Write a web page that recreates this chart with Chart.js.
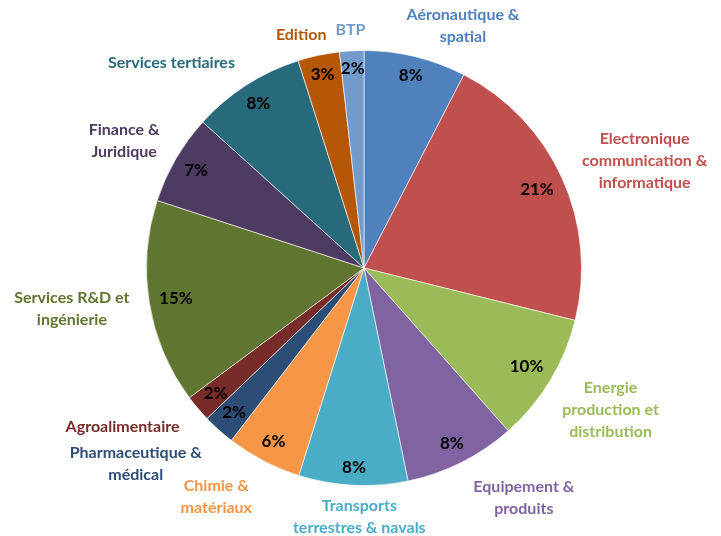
<!DOCTYPE html>
<html>
<head>
<meta charset="utf-8">
<script src="https://cdn.jsdelivr.net/npm/chart.js@4"></script>
<style>
  body { margin: 0; background: #fff; }
  #wrap { width: 721px; height: 536px; }
</style>
</head>
<body>
<div id="wrap"><canvas id="myChart"></canvas></div>
<script>
// secteurs (dans l'ordre du camembert, depuis midi, sens horaire)
const secteurs = [
  ['Aéronautique &', 'spatial'],
  ['Electronique', 'communication &', 'informatique'],
  ['Energie', 'production et', 'distribution'],
  ['Equipement &', 'produits'],
  ['Transports', 'terrestres & navals'],
  ['Chimie &', 'matériaux'],
  ['Pharmaceutique &', 'médical'],
  ['Agroalimentaire'],
  ['Services R&D et', 'ingénierie'],
  ['Finance &', 'Juridique'],
  ['Services tertiaires'],
  ['Edition'],
  ['BTP']
];
// parts en %
const parts = [7.6, 21.3, 9.6, 8.3, 8.1, 5.6, 2.4, 2.0, 15.2, 6.7, 8.4, 3.1, 1.8];
const couleurs = ['#4F81BD', '#C0504D', '#9BBB59', '#8064A2', '#4BACC6', '#F79646', '#2C4D75',
                  '#772C2A', '#5F7530', '#4D3B62', '#276A7C', '#B65708', '#729ACA'];

const police = 'Lato, "Open Sans", sans-serif';

// décalage manuel des noms (comme dans le graphique d'origine) : [dx, dy]
const decalNoms = [[37, 2], [9, 16], [2, -6], [39, -11], [8, 5], [-26, -5], [-36, -19],
                   [-29, -21], [-8, -5], [-7, 8], [-46, 23], [-12, 5], [0, 1]];

// --> labels (pourcentages dedans, secteurs dehors)
const etiquettes = {
  id: 'etiquettes',
  afterDatasetsDraw(chart) {
    const ctx = chart.ctx;
    const W = chart.width, H = chart.height;
    const meta = chart.getDatasetMeta(0);
    ctx.save();
    ctx.textAlign = 'center';
    ctx.textBaseline = 'middle';
    meta.data.forEach((arc, i) => {
      const p = arc.getProps(['x', 'y', 'startAngle', 'endAngle', 'outerRadius'], true);
      const mid = (p.startAngle + p.endAngle) / 2;
      const c = Math.cos(mid), s = Math.sin(mid);
      const R = p.outerRadius;

      // pourcentage
      ctx.font = 'bold 17px ' + police;
      const txt = Math.round(parts[i]) + '%';
      const hw = ctx.measureText(txt).width / 2;
      const d1 = R - 9 - hw * Math.abs(c) - 8 * Math.abs(s);
      ctx.fillStyle = '#000';
      ctx.fillText(txt, p.x + d1 * c, p.y + d1 * s);

      // nom du secteur
      ctx.font = 'bold 16px ' + police;
      const lignes = secteurs[i];
      const lh = 22;
      let mw = 0;
      lignes.forEach(l => { mw = Math.max(mw, ctx.measureText(l).width); });
      const bw = mw / 2, bh = lignes.length * lh / 2;
      const d2 = R + 10 + bw * Math.abs(c) + bh * Math.abs(s);
      let x = p.x + d2 * c, y = p.y + d2 * s;
      x = Math.min(Math.max(x, bw + 2), W - bw - 2);
      y = Math.min(Math.max(y, bh + 2), H - bh - 2);
      x += decalNoms[i][0];
      y += decalNoms[i][1];
      ctx.fillStyle = couleurs[i];
      lignes.forEach((l, k) => {
        ctx.fillText(l, x, y - bh + lh / 2 + k * lh);
      });
    });
    ctx.restore();
  }
};

const ctx = document.getElementById('myChart');
const pieChart = new Chart(ctx, {
  type: 'pie',
  data: {
    labels: secteurs,
    datasets: [{
      data: parts,
      backgroundColor: couleurs,
      borderColor: 'rgba(255,255,255,0.6)',
      borderWidth: 1
    }]
  },
  options: {
    responsive: true,
    maintainAspectRatio: false,
    animation: false,
    layout: { padding: { left: 146, right: 139, top: 50, bottom: 50 } },
    plugins: {
      legend: { display: false },
      tooltip: { enabled: false }
    }
  },
  plugins: [etiquettes]
});
</script>
</body>
</html>
